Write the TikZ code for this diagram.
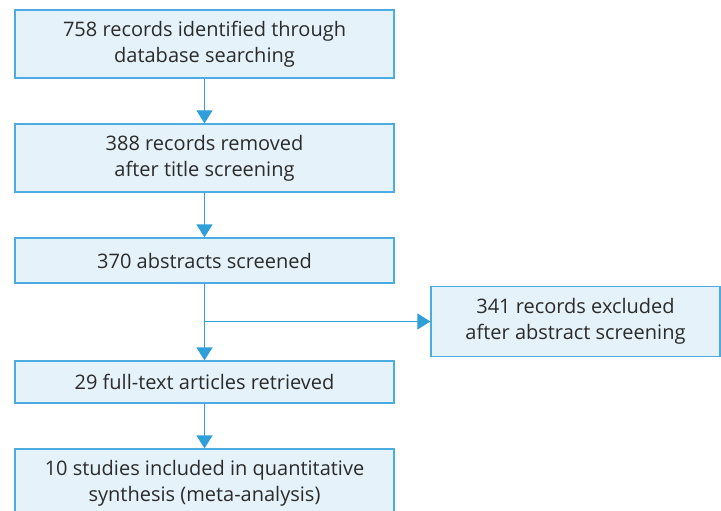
\documentclass[tikz,border=0pt]{standalone}
\usepackage{fontspec}
\setmainfont{Open Sans}
\usetikzlibrary{arrows.meta}
\definecolor{boxfill}{HTML}{E5F2F9}
\definecolor{boxline}{HTML}{4AACE0}
\definecolor{arrowblue}{HTML}{2E9FD8}
\definecolor{txt}{HTML}{2B2B2B}
\tikzset{
  flowbox/.style={draw=boxline, fill=boxfill, line width=1.3pt, text=txt,
    align=center, inner sep=0pt, font=\fontsize{20}{26}\selectfont},
  link/.style={draw=arrowblue, line width=1.3pt,
    -{Triangle[width=16pt,length=13pt]}},
}
\begin{document}
\begin{tikzpicture}[x=1pt,y=-1pt]
\useasboundingbox (0,0) rectangle (721,511);
\clip (0,0) rectangle (721,511);
% main column
\node[flowbox, minimum width=379pt, minimum height=68pt] (ident) at (204.5,44)
  {758 records identified through\\database searching};
\node[flowbox, minimum width=379pt, minimum height=68pt] (title) at (204.5,158)
  {388 records removed\\after title screening};
\node[flowbox, minimum width=379pt, minimum height=45pt] (abs) at (204.5,260.5)
  {370 abstracts screened};
\node[flowbox, minimum width=379pt, minimum height=42pt] (full) at (204.5,382)
  {29 full-text articles retrieved};
\node[flowbox, minimum width=379pt, minimum height=68pt] (incl) at (204.5,483)
  {10 studies included in quantitative\\synthesis (meta-analysis)};
% exclusion box
\node[flowbox, minimum width=289pt, minimum height=70pt] (excl) at (575.5,321.5)
  {341 records excluded\\after abstract screening};
% connectors
\draw[link] (ident.south) -- (title.north);
\draw[link] (title.south) -- (abs.north);
\draw[link] (abs.south) -- (full.north);
\draw[link] (abs.south |- excl.west) -- (excl.west);
\draw[link] (full.south) -- (incl.north);
\end{tikzpicture}
\end{document}
